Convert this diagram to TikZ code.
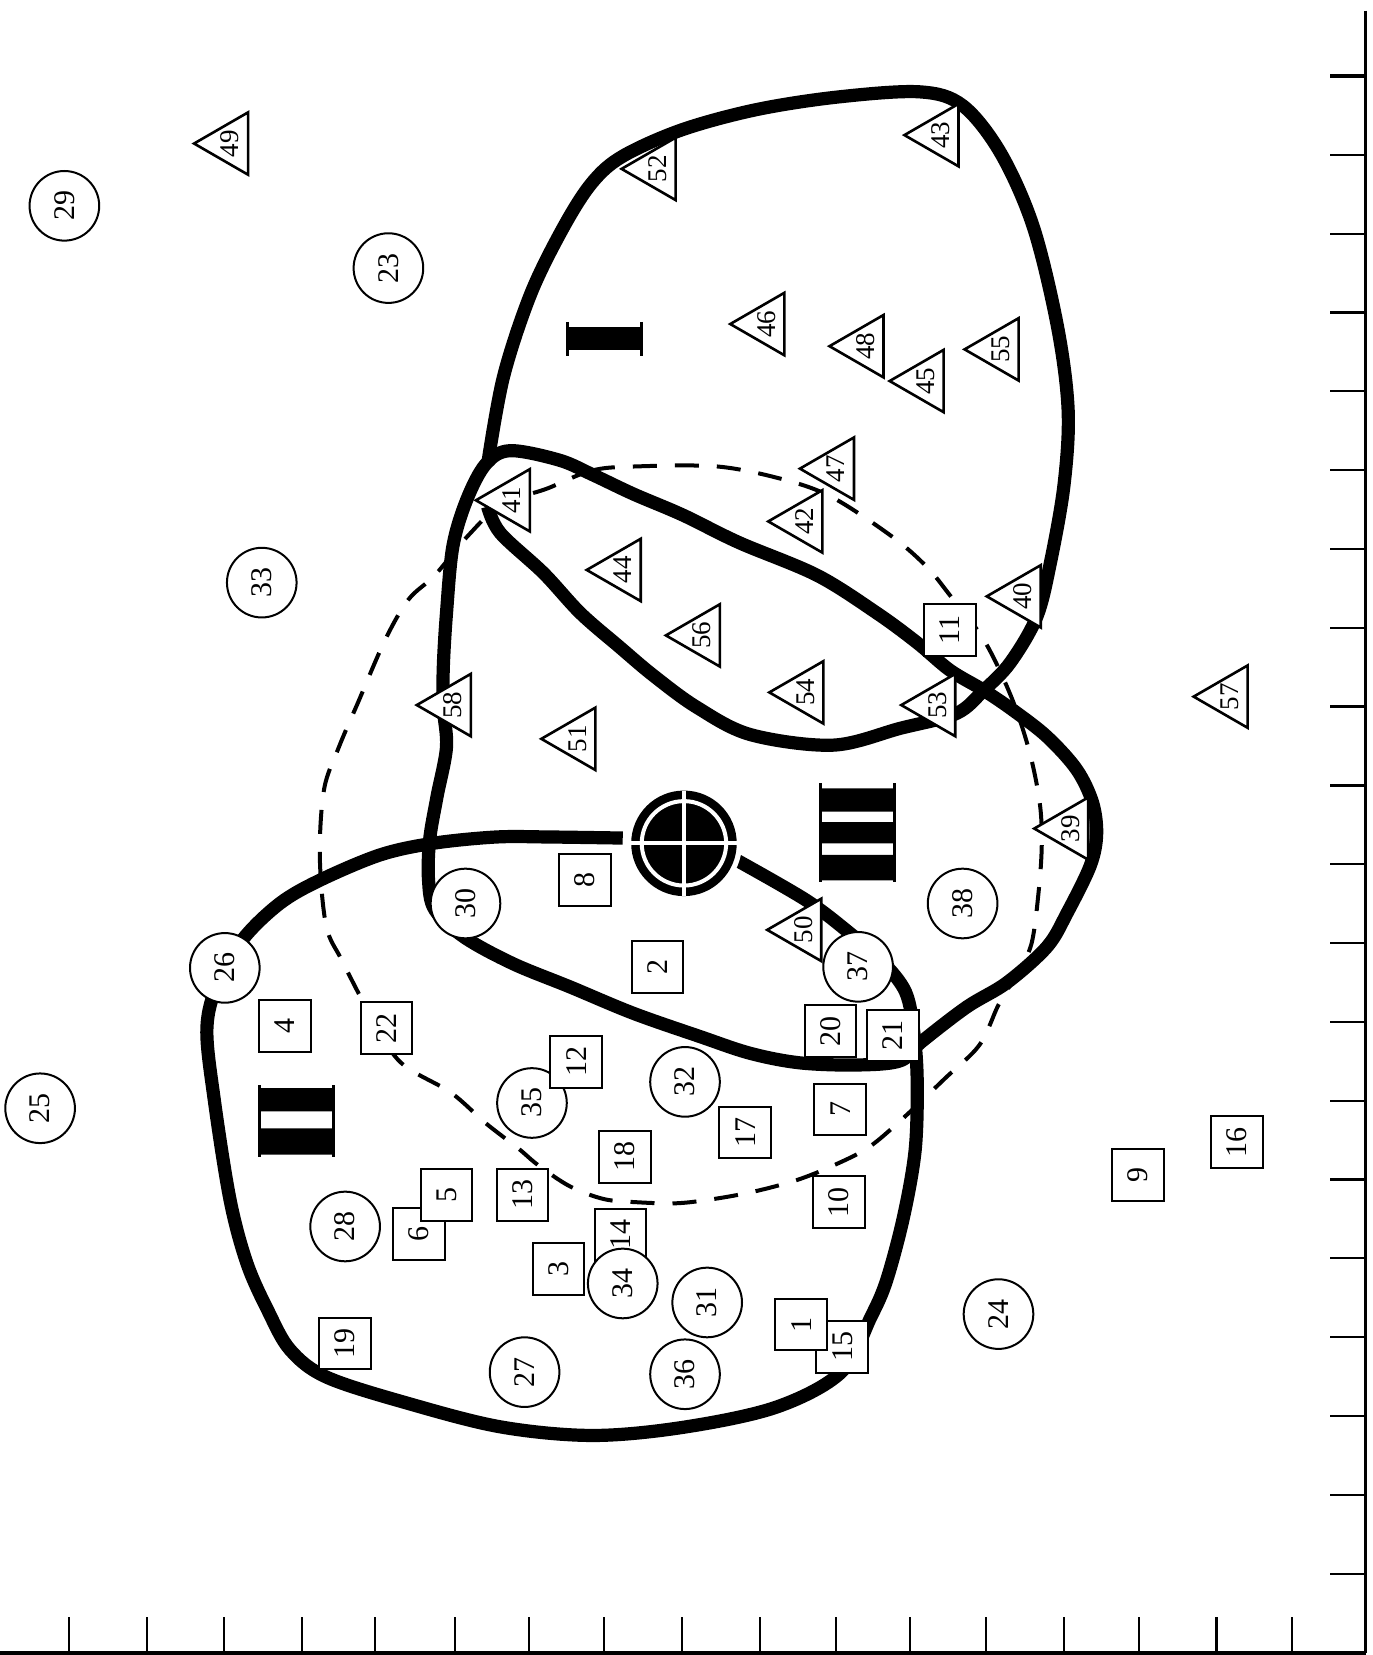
\documentclass[tikz,border=0pt]{standalone}
\usepackage{fontspec}
\setmainfont{Liberation Serif}
\usetikzlibrary{shapes.geometric}

\begin{document}
\begin{tikzpicture}[x=0.5275pt,y=0.5275pt,yscale=-1,xscale=1,
  circ/.style={circle,draw,fill=white,line width=1pt,minimum size=34.8pt,inner sep=0pt,rotate=90,font=\fontsize{15}{15}\selectfont},
  sq/.style={rectangle,draw,fill=white,line width=1pt,minimum size=25.8pt,inner sep=0pt,rotate=90,font=\fontsize{15}{15}\selectfont},
  tri/.style={regular polygon,regular polygon sides=3,draw,fill=white,line width=1.3pt,minimum size=36pt,inner sep=-4pt,rotate=90,font=\fontsize{13.5}{13.5}\selectfont},
  belt/.style={line width=6.6pt,line join=round},
  dashring/.style={line width=2pt,dash pattern=on 12pt off 9pt}]
\useasboundingbox (0,0) rectangle (1300,1568);

%Axes: bottom and right with ticks
\draw [line width=1.6pt] (0,1566) -- (1294,1566) ;
\draw [line width=1.6pt] (1294,10) -- (1294,1566) ;
\foreach \tx in {65,139,212.5,286,355,431,501,572.5,646,720,792,862,934,1008,1079,1152.5,1224}
  \draw [line width=1.1pt] (\tx,1566) -- (\tx,1532) ;
\draw [line width=2pt] (1294,72) -- (1260,72) ;
\foreach \k in {1,...,19}
  \draw [line width=1.1pt] (1294,72+74.68*\k) -- (1260,72+74.68*\k) ;

%Region I (with lower lobe)
\draw [belt] plot [smooth,tension=0.55] coordinates {(462,440) (477,357) (503,278) (534,215) (561,173) (590,148) (646,123) (716,104) (793,92) (871,87) (912,100) (948,145) (979,215) (1002,310) (1012,389) (1008,460) (995,534) (982,585) (957,628) (932,654) (906,676) (853,690) (789,706) (711,696) (660,670) (619,640) (587,613) (550,581) (515,543) (474,505) (462,480)} ;
%Region III
\draw [belt] plot [smooth cycle,tension=0.55] coordinates {(460,440) (483,427) (530,436) (562,450) (600,468) (647,488) (700,514) (774,545) (831,581) (869,609) (900,635) (932,654) (960,673) (992,698) (1020,729) (1035,760) (1039,790) (1033,820) (1011,865) (992,897) (954,931) (916,954) (873,987) (853,1005) (812,1009) (758,1007) (711,998) (663,982) (600,960) (540,935) (486,913) (440,888) (412,862) (406,834) (407,796) (414,755) (423,708) (420,670) (420,632) (423,581) (429,518) (442,474)} ;
%Region II
\draw [belt] plot [smooth,tension=0.55] coordinates {(698,815) (764,853) (805,884) (835,910) (858,940) (866,980) (869,1026) (867,1090) (856,1153) (840,1213) (825,1248) (797,1300) (736,1333) (649,1352) (562,1360) (475,1352) (388,1330) (310,1305) (275,1279) (254,1242) (234,1197) (218,1137) (203,1042) (196,975) (206,932) (230,890) (265,856) (303,834) (360,810) (410,799) (470,793) (521,793) (590,794)} ;
%Dashed region
\draw [dashring] plot [smooth cycle,tension=0.55] coordinates {(518,463) (560,446) (600,442) (680,442) (745,455) (790,472) (846,509) (878,537) (900,564) (932,606) (958,660) (975,711) (985,760) (987,800) (984,845) (977,895) (962,925) (946,952) (928,990) (895,1022) (855,1060) (823,1087) (790,1104) (755,1118) (714,1129) (676,1136) (641,1140) (603,1139) (572,1136) (540,1124) (510,1104) (491,1088) (460,1064) (427,1035) (379,1006) (350,960) (324,910) (309,877) (303,811) (307,748) (321,708) (339,666) (365,606) (387,568) (412,545) (443,508) (475,478)} ;

%Shape: target
\coordinate (tg) at (648,799) ;
\fill [white] (tg) circle (55) ;
\fill (tg) circle (50) ;
\draw [white,line width=2pt] (tg) circle (40) ;
\draw [white,line width=2pt] (598,799) -- (698,799) (648,749) -- (648,849) ;

%Roman numerals
\fill (537,310) rectangle (609,332) ;
\draw [line width=1.5pt] (538,305) -- (538,337) (608,305) -- (608,337) ;
\fill (245,1031) rectangle (317,1053) (245,1069) rectangle (317,1094) ;
\draw [line width=1.5pt] (246,1028) -- (246,1096) (316,1028) -- (316,1096) ;
\fill (776,747) rectangle (848,769) (776,779) rectangle (848,799) (776,810) rectangle (848,834) ;
\draw [line width=1.5pt] (777,742) -- (777,836) (847,742) -- (847,836) ;

%Circles
\node [circ] (c29) at (61,195) {29};
\node [circ] (c23) at (368,254) {23};
\node [circ] (c33) at (248,552) {33};
\node [circ] (c25) at (38,1050) {25};
\node [circ] (c26) at (213,917) {26};
\node [circ] (c30) at (441,856) {30};
\node [circ] (c35) at (504,1045) {35};
\node [circ] (c32) at (649,1025) {32};
\node [circ] (c28) at (327,1162) {28};
\node [circ] (c27) at (497,1300) {27};
\node [circ] (c36) at (649,1302) {36};
\node [circ] (c31) at (670,1234) {31};
\node [circ] (c37) at (813,916) {37};
\node [circ] (c38) at (912,856) {38};
\node [circ] (c24) at (946,1245) {24};

%Squares
\node [sq] (s4) at (270,972) {4};
\node [sq] (s22) at (366,974) {22};
\node [sq] (s12) at (546,1006) {12};
\node [sq] (s8) at (554,834) {8};
\node [sq] (s2) at (623,916) {2};
\node [sq] (s20) at (787,977) {20};
\node [sq] (s21) at (846,981) {21};
\node [sq] (s7) at (796,1051) {7};
\node [sq] (s17) at (706,1073) {17};
\node [sq] (s18) at (592,1096) {18};
\node [sq] (s6) at (397,1169) {6};
\node [sq] (s5) at (423,1132) {5};
\node [sq] (s13) at (495,1132) {13};
\node [sq] (s14) at (588,1170) {14};
\node [circ] (c34) at (590,1216) {34};
\node [sq] (s3) at (529,1202) {3};
\node [sq] (s10) at (795,1139) {10};
\node [sq] (s19) at (327,1273) {19};
\node [sq] (s15) at (798,1276) {15};
\node [sq] (s1) at (759,1255) {1};
\node [sq] (s9) at (1078,1113) {9};
\node [sq] (s16) at (1172,1082) {16};
\node [sq] (s11) at (900,597) {11};

%Triangles
\node [tri] (t49) at (218,136) {49};
\node [tri] (t52) at (623,160) {52};
\node [tri] (t43) at (891,128) {43};
\node [tri] (t46) at (726,307) {46};
\node [tri] (t48) at (820,328) {48};
\node [tri] (t45) at (877,361) {45};
\node [tri] (t55) at (948,331) {55};
\node [tri] (t47) at (792,444) {47};
\node [tri] (t41) at (485,474) {41};
\node [tri] (t42) at (762,494) {42};
\node [tri] (t44) at (590,540) {44};
\node [tri] (t40) at (969,565) {40};
\node [tri] (t56) at (665,602) {56};
\node [tri] (t58) at (429,668) {58};
\node [tri] (t54) at (763,656) {54};
\node [tri] (t53) at (888,668) {53};
\node [tri] (t57) at (1165,660) {57};
\node [tri] (t51) at (547,700) {51};
\node [tri] (t39) at (1014,785) {39};
\node [tri] (t50) at (761,881) {50};
\end{tikzpicture}
\end{document}
